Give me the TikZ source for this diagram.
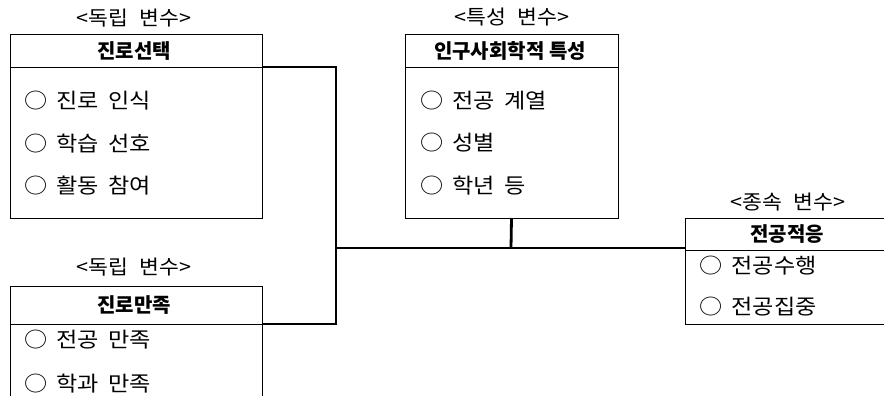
\documentclass[tikz,border=0pt]{standalone}
\usepackage{fontspec}
\setmainfont{Noto Sans CJK KR}
\newfontfamily\itemfont[FakeStretch=1.1,WordSpace=1.8]{Noto Sans CJK KR}
\newfontfamily\labfont[FakeStretch=1.08,WordSpace=2.2]{Noto Sans CJK KR}
\begin{document}
\begin{tikzpicture}[x=1pt,y=-1pt,
  box/.style={draw,line width=0.8pt,anchor=north west,inner sep=0pt,outer sep=0pt},
  head/.style={font=\fontsize{20}{22}\selectfont\bfseries,inner sep=0pt},
  item/.style={font=\itemfont\fontsize{21}{23}\selectfont,anchor=west,inner sep=0pt},
  lab/.style={font=\labfont\fontsize{20}{22}\selectfont,inner sep=0pt},
  hline/.style={line width=0.8pt},
  conn/.style={line width=2.8pt}]
\useasboundingbox (0,0) rectangle (884,396);
\clip (0,0) rectangle (884,396);
% boxes
\node[box,minimum width=252pt,minimum height=184pt] (b1) at (10,34) {};
\node[box,minimum width=213pt,minimum height=184pt] (b3) at (405,34) {};
\node[box,minimum width=252pt,minimum height=140pt] (b2) at (10,286) {};
\node[box,minimum width=230pt,minimum height=106pt] (b4) at (685,218) {};
% header lines
\draw[hline] (10,67) -- (262,67);
\draw[hline] (405,67) -- (618,67);
\draw[hline] (10,324) -- (262,324);
\draw[hline] (685,250) -- (900,250);
% labels
\node[lab] (l1) at (134,18) {<독립 변수>};
\node[lab] (l3) at (512,17) {<특성 변수>};
\node[lab] (l4) at (788,202) {<종속 변수>};
\node[lab] (l2) at (134,267) {<독립 변수>};
% headers
\node[head] (h1) at (134,51) {진로선택};
\node[head] (h3) at (510,51) {인구사회학적 특성};
\node[head] (h2) at (134,305) {진로만족};
\node[head] (h4) at (787,234) {전공적응};
% items
\node[item] (i11) at (24,101) {○ 진로 인식};
\node[item] (i12) at (24,144) {○ 학습 선호};
\node[item] (i13) at (24,186) {○ 활동 참여};
\node[item] (i31) at (420,101) {○ 전공 계열};
\node[item] (i32) at (420,143) {○ 성별};
\node[item] (i33) at (420,186) {○ 학년 등};
\node[item] (i41) at (699,266) {○ 전공수행};
\node[item] (i42) at (699,307) {○ 전공집중};
\node[item] (i21) at (24,340) {○ 전공 만족};
\node[item] (i22) at (24,384) {○ 학과 만족};
% connectors
\coordinate (j1) at (336,67);
\coordinate (j2) at (336,324);
\coordinate (j3) at (336,248);
\coordinate (j4) at (511,248);
\draw[conn] (b1.east |- j1) -- (j1) -- (j2) -- (b2.east |- j2);
\draw[conn] (j3) -- (b4.west |- j3);
\draw[conn] (b3.south) -- (j4);
\end{tikzpicture}
\end{document}
